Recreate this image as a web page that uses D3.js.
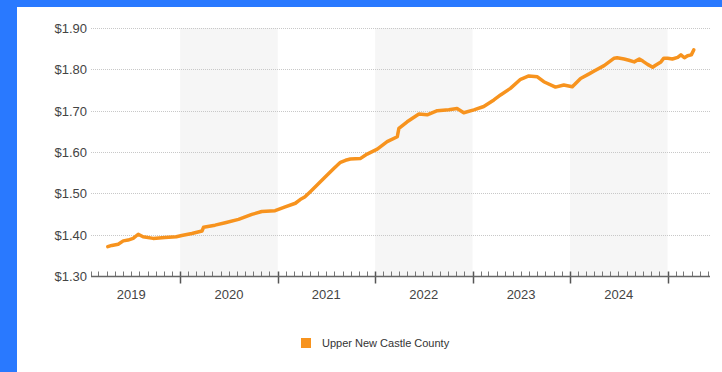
<!DOCTYPE html>
<html>
<head>
<meta charset="utf-8">
<script src="https://cdn.jsdelivr.net/npm/d3@7"></script>
<style>
  html, body { margin: 0; padding: 0; }
  body { background: #2979ff; width: 722px; height: 372px; overflow: hidden; }
  #chart { position: absolute; left: 17px; top: 7px; width: 705px; height: 365px; background: #fff; }
  text { font-family: "Liberation Sans", Arial, sans-serif; }
</style>
</head>
<body>
<div id="chart"></div>
<script>
// roughly one point every few weeks
const dates = [
    "2019-04-05", "2019-04-20", "2019-05-14", "2019-06-02", "2019-06-20", "2019-07-09",
    "2019-07-28", "2019-08-15", "2019-09-22", "2019-11-05", "2019-12-18", "2020-01-07",
    "2020-02-14", "2020-03-23", "2020-03-29", "2020-05-11", "2020-06-18", "2020-08-07",
    "2020-09-26", "2020-11-02", "2020-12-22", "2021-01-29", "2021-03-08", "2021-03-26",
    "2021-04-12", "2021-05-03", "2021-06-22", "2021-07-30", "2021-08-24", "2021-09-12",
    "2021-09-30", "2021-11-06", "2021-12-02", "2022-01-09", "2022-02-15", "2022-03-25",
    "2022-03-31", "2022-05-01", "2022-06-14", "2022-07-15", "2022-08-22", "2022-10-04",
    "2022-11-04", "2022-11-29", "2023-01-06", "2023-02-12", "2023-03-22", "2023-04-16",
    "2023-05-23", "2023-06-30", "2023-07-31", "2023-09-01", "2023-09-25", "2023-11-08",
    "2023-12-09", "2024-01-10", "2024-02-10", "2024-03-13", "2024-04-01", "2024-05-08",
    "2024-06-15", "2024-06-26", "2024-07-22", "2024-08-09", "2024-08-29", "2024-09-17",
    "2024-09-30", "2024-10-18", "2024-11-06", "2024-11-17", "2024-12-07", "2024-12-18",
    "2025-01-01", "2025-01-19", "2025-02-08", "2025-02-20", "2025-03-05", "2025-03-17",
    "2025-03-31", "2025-04-09"
];
const prices = [
    1.371, 1.374, 1.377, 1.385, 1.387, 1.391,
    1.401, 1.395, 1.391, 1.393, 1.395, 1.398,
    1.403, 1.409, 1.418, 1.423, 1.429, 1.437,
    1.449, 1.456, 1.458, 1.467, 1.476, 1.485,
    1.491, 1.504, 1.536, 1.560, 1.575, 1.580,
    1.583, 1.584, 1.595, 1.607, 1.625, 1.637,
    1.657, 1.673, 1.692, 1.690, 1.700, 1.702,
    1.705, 1.695, 1.702, 1.710, 1.726, 1.738,
    1.754, 1.776, 1.784, 1.782, 1.770, 1.757,
    1.762, 1.758, 1.778, 1.789, 1.796, 1.809,
    1.827, 1.828, 1.825, 1.822, 1.818, 1.825,
    1.820, 1.812, 1.805, 1.810, 1.818, 1.827,
    1.827, 1.825, 1.829, 1.835, 1.828, 1.833,
    1.835, 1.847
];
const yTicks = [1.30, 1.40, 1.50, 1.60, 1.70, 1.80, 1.90];
const years = [2019, 2020, 2021, 2022, 2023, 2024];
const shadedYears = [2020, 2022, 2024];
const seriesName = "Upper New Castle County";

const parse = d3.timeParse("%Y-%m-%d");
const data = dates.map((d, i) => ({ date: parse(d), value: prices[i] }));

const width = 705, height = 365;
const margin = { left: 74, right: 12, top: 21, bottom: 96 };

const svg = d3.select("#chart").append("svg")
    .attr("width", width)
    .attr("height", height);

const x = d3.scaleTime()
    .domain([new Date(2019, 1, 1), new Date(2025, 5, 9)])
    .range([margin.left, width - margin.right]);

const y = d3.scaleLinear()
    .domain([1.30, 1.90])
    .range([height - margin.bottom, margin.top]);

// alternating year bands
svg.selectAll(".band")
    .data(shadedYears)
    .enter()
    .append("rect")
    .attr("x", d => x(new Date(d, 0, 1)))
    .attr("width", d => x(new Date(d + 1, 0, 1)) - x(new Date(d, 0, 1)))
    .attr("y", y(1.90))
    .attr("height", y(1.30) - y(1.90))
    .attr("fill", "#f6f6f6");

// grid
svg.selectAll(".grid")
    .data(yTicks.slice(1))
    .enter()
    .append("line")
    .attr("x1", x.range()[0])
    .attr("x2", x.range()[1])
    .attr("y1", d => Math.round(y(d)) + 0.5)
    .attr("y2", d => Math.round(y(d)) + 0.5)
    .attr("stroke", "#c8c8c8")
    .attr("stroke-dasharray", "1,1");

svg.selectAll(".ylabel")
    .data(yTicks)
    .enter()
    .append("text")
    .attr("x", margin.left - 4)
    .attr("y", d => y(d) + 5)
    .attr("text-anchor", "end")
    .attr("font-size", 13)
    .attr("fill", "#444")
    .text(d => "$" + d.toFixed(2));

// x axis: monthly minor ticks, yearly major ticks
const axisY = Math.round(y(1.30)) + 0.5;
const months = d3.timeMonth.range(x.domain()[0], x.domain()[1]);

svg.selectAll(".minor")
    .data(months.filter(d => d.getMonth() !== 0))
    .enter()
    .append("line")
    .attr("x1", d => Math.round(x(d)) + 0.5)
    .attr("x2", d => Math.round(x(d)) + 0.5)
    .attr("y1", axisY - 5)
    .attr("y2", axisY)
    .attr("stroke", "#777");

svg.selectAll(".major")
    .data(months.filter(d => d.getMonth() === 0))
    .enter()
    .append("line")
    .attr("x1", d => Math.round(x(d)) + 0.5)
    .attr("x2", d => Math.round(x(d)) + 0.5)
    .attr("y1", axisY - 5)
    .attr("y2", axisY + 7)
    .attr("stroke", "#555")
    .attr("stroke-width", 1.5);

svg.append("line")
    .attr("x1", x.range()[0])
    .attr("x2", x.range()[1])
    .attr("y1", axisY)
    .attr("y2", axisY)
    .attr("stroke", "#666")
    .attr("stroke-width", 1.5);

svg.selectAll(".xlabel")
    .data(years)
    .enter()
    .append("text")
    .attr("x", d => x(new Date(d, 6, 2)))
    .attr("y", axisY + 22)
    .attr("text-anchor", "middle")
    .attr("font-size", 13)
    .attr("fill", "#444")
    .text(d => d);

const line = d3.line()
    .x(d => x(d.date))
    .y(d => y(d.value));

svg.append("path")
    .datum(data)
    .attr("d", line)
    .attr("fill", "none")
    .attr("stroke", "#f7931e")
    .attr("stroke-width", 3.5)
    .attr("stroke-linejoin", "round")
    .attr("stroke-linecap", "round");

// legend
const legend = svg.append("g")
    .attr("transform", "translate(284, 331)");

legend.append("rect")
    .attr("width", 10)
    .attr("height", 10)
    .attr("fill", "#f7931e");

legend.append("text")
    .attr("x", 21)
    .attr("y", 9)
    .attr("font-size", 11)
    .attr("fill", "#333")
    .text(seriesName);
</script>
</body>
</html>
